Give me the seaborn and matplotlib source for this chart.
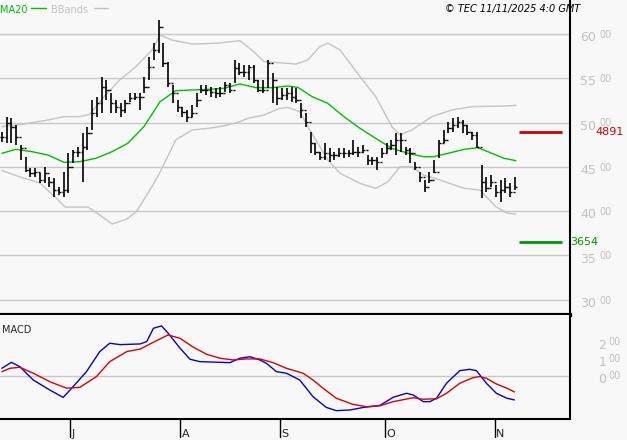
import numpy as np
import pandas as pd
import matplotlib
matplotlib.use("Agg")
import matplotlib.pyplot as plt
import seaborn as sns

# daily bars: close, high, low
closes = [4841, 4992, 4954, 4841, 4709, 4465, 4427, 4446, 4352, 4427, 4333, 4239, 4220, 4239, 4502,
          4672, 4672, 4728, 4879, 5105, 5217, 5406, 5368, 5217, 5180, 5142, 5217, 5274, 5293, 5293,
          5406, 5631, 5820, 6083, 5669, 5443, 5330, 5180, 5123, 5067, 5105, 5255, 5368, 5368, 5349,
          5330, 5330, 5424, 5368, 5613, 5575, 5575, 5631, 5481, 5368, 5368, 5669, 5481, 5274, 5312,
          5330, 5293, 5255, 5142, 5011, 4766, 4672, 4615, 4653, 4634, 4634, 4653, 4653, 4653, 4672,
          4672, 4691, 4578, 4578, 4559, 4653, 4709, 4747, 4804, 4804, 4691, 4653, 4502, 4390, 4277,
          4352, 4446, 4766, 4804, 4935, 4973, 5011, 4973, 4898, 4860, 4728, 4333, 4258, 4333, 4220,
          4239, 4277, 4220, 4277]
highs = [4898, 5067, 5048, 4973, 4747, 4615, 4484, 4484, 4427, 4502, 4390, 4371, 4277, 4446, 4653,
         4691, 4728, 4879, 4954, 5255, 5293, 5519, 5481, 5330, 5255, 5217, 5255, 5330, 5330, 5330,
         5519, 5744, 5895, 6158, 5895, 5688, 5424, 5255, 5180, 5142, 5199, 5330, 5424, 5424, 5406,
         5387, 5406, 5462, 5443, 5707, 5669, 5650, 5650, 5650, 5481, 5481, 5707, 5556, 5406, 5387,
         5387, 5406, 5387, 5217, 5105, 4898, 4766, 4672, 4766, 4709, 4672, 4709, 4709, 4691, 4804,
         4728, 4747, 4634, 4615, 4615, 4709, 4766, 4804, 4879, 4879, 4728, 4709, 4559, 4446, 4352,
         4446, 4578, 4804, 4916, 5011, 5048, 5067, 5029, 4973, 4898, 4898, 4521, 4390, 4408, 4296,
         4352, 4371, 4314, 4390]
lows = [4785, 4766, 4766, 4747, 4578, 4446, 4390, 4390, 4314, 4314, 4277, 4164, 4183, 4164, 4201,
        4540, 4615, 4333, 4691, 4916, 5067, 5105, 5255, 5105, 5105, 5067, 5105, 5236, 5255, 5142,
        5330, 5481, 5707, 5782, 5631, 5406, 5217, 5123, 5067, 5011, 5067, 5180, 5330, 5312, 5293,
        5274, 5293, 5349, 5330, 5443, 5537, 5519, 5481, 5443, 5349, 5330, 5387, 5217, 5199, 5255,
        5255, 5236, 5217, 5048, 4954, 4653, 4634, 4578, 4578, 4559, 4578, 4615, 4597, 4615, 4634,
        4615, 4653, 4521, 4521, 4465, 4597, 4653, 4691, 4634, 4672, 4634, 4540, 4465, 4333, 4220,
        4314, 4427, 4597, 4766, 4879, 4898, 4935, 4879, 4860, 4804, 4709, 4145, 4220, 4277, 4164,
        4107, 4201, 4164, 4239]

ma_day = [0, 2.9, 6.3, 9.7, 13.1, 16.4, 19.8, 23.2, 26.5, 29.9, 33.3, 36.6, 40, 43.4, 46.7, 50.1,
          53.5, 56.8, 60.2, 62.3, 65.3, 68.6, 72, 75.4, 78.7, 82.1, 85.5, 88.8, 90.9, 93.9, 97.3,
          100.2, 102.3, 105.7, 108.2]
ma20 = [4653, 4698, 4672, 4634, 4551, 4559, 4597, 4672, 4766, 4954, 5236, 5360, 5368, 5375, 5387,
        5436, 5394, 5394, 5413, 5398, 5293, 5217, 5067, 4935, 4822, 4709, 4653, 4615, 4615, 4653,
        4698, 4717, 4672, 4597, 4570]

up_day = [0, 4.6, 9.7, 13.1, 16.4, 18.5, 21.5, 24.8, 28.2, 31.6, 33.3, 35.8, 40, 45.1, 50.1, 52.6,
          55.2, 61.9, 64.4, 66.9, 68.6, 71.2, 75.4, 78.7, 82.1, 83.8, 86.3, 90.5, 94.7, 98.9, 105.7,
          108.2]
bb_up = [4954, 4984, 5029, 5067, 5067, 5093, 5293, 5481, 5631, 5820, 5989, 5932, 5887, 5895, 5925,
         5820, 5688, 5661, 5707, 5857, 5895, 5820, 5519, 5293, 4954, 4860, 4916, 5067, 5142, 5180,
         5187, 5195]

lo_day = [0, 3.8, 8, 11.2, 13.3, 18.1, 20.6, 23.2, 26.3, 28.4, 30.5, 31.8, 33.3, 36.6, 40, 43.4,
          46.7, 50.1, 51.8, 55.2, 58.5, 60.2, 62.7, 64.4, 66.1, 68.6, 71.2, 75.4, 78.7, 81.3, 83.8,
          86.3, 88.8, 92.2, 97.3, 100.6, 104, 106.5, 108.2]
bb_lo = [4460, 4386, 4318, 4160, 4047, 4047, 3957, 3855, 3911, 4002, 4182, 4295, 4442, 4804, 4916,
         4935, 4962, 5011, 5048, 5086, 5161, 5172, 5123, 4954, 4804, 4578, 4427, 4314, 4258, 4333,
         4502, 4502, 4408, 4352, 4258, 4239, 4051, 3976, 3968]

macd_day = [0, 2.0, 3.8, 6.6, 10.1, 12.9, 14.7, 17.8, 20.6, 22.7, 24.9, 29.1, 30.5, 31.9, 33.6, 35.0,
            37.5, 39.6, 41.7, 45.9, 48.0, 50.1, 52.2, 54.3, 55.7, 57.8, 59.9, 62.7, 65.5, 68.3, 70.4,
            73.3, 76.1, 79.6, 82.4, 85.2, 86.6, 88.7, 90.1, 91.5, 93.6, 96.4, 98.5, 99.9, 102.0,
            104.1, 106.3, 107.9]
macd = [47, 82, 56, -22, -81, -124, -70, 27, 145, 194, 186, 190, 204, 282, 296, 253, 165, 100, 86,
        82, 80, 106, 115, 96, 76, 27, 18, -22, -120, -183, -202, -198, -183, -171, -123, -100, -110,
        -149, -149, -129, -41, 33, 41, 33, -41, -100, -129, -139]

sig_day = [0, 1.7, 3.8, 6.6, 10.1, 13.6, 16.4, 19.9, 22.7, 26.3, 29.1, 31.9, 35.0, 37.5, 40.3, 43.1,
           45.9, 48.7, 51.5, 54.3, 57.1, 59.9, 63.4, 65.5, 67.6, 70.4, 73.9, 76.8, 79.6, 82.4, 86.6,
           88.7, 91.5, 93.6, 96.4, 99.2, 100.6, 102.0, 104.1, 106.3, 107.9]
signal = [27, 47, 53, 18, -32, -70, -65, -2, 86, 145, 160, 200, 243, 223, 171, 129, 106, 96, 102,
          102, 80, 47, 18, -22, -70, -129, -165, -179, -173, -149, -126, -135, -132, -100, -41, -8,
          -2, -12, -45, -70, -92]

month_day = [14.3, 37.5, 58.5, 80.6, 103.8]
month_labels = ["J", "A", "S", "O", "N"]
price_ticks = [3000, 3500, 4000, 4500, 5000, 5500, 6000]
macd_ticks = [0, 100, 200]
resist, support = 4891, 3654

BG = "#f8f8f8"
GRID = "#c8c8c8"
LBL = "#c0c0c0"

sns.set_style("white")
plt.rcParams["font.family"] = ["DejaVu Sans"]
fig = plt.figure(figsize=(6.27, 4.4), dpi=100, facecolor=BG)
ax = fig.add_axes([0, 1 - 315 / 440, 570 / 627, 315 / 440], facecolor=BG)
ax2 = fig.add_axes([0, 1 - 419 / 440, 570 / 627, 104 / 440], facecolor=BG)
XL = (-0.4, 119.6)

# price panel
for p in price_ticks:
    ax.axhline(p, color=GRID, lw=1, zorder=0)
sns.lineplot(x=up_day, y=bb_up, ax=ax, color="#c4c4c4", lw=1)
sns.lineplot(x=lo_day, y=bb_lo, ax=ax, color="#c4c4c4", lw=1)
sns.lineplot(x=ma_day, y=ma20, ax=ax, color="#00c000", lw=1)
days = np.arange(len(closes))
opens = [closes[0]] + closes[:-1]
ax.vlines(days, lows, highs, color="black", lw=1.2)
ax.hlines(opens, days - 0.45, days, color="black", lw=1)
ax.hlines(closes, days, days + 0.45, color="black", lw=1)
ax.hlines(resist, 108.8, 117.9, color="#cc0000", lw=2)
ax.hlines(support, 108.8, 117.9, color="#009900", lw=2)
ax.set_xlim(*XL)
ax.set_ylim(2828, 6384)
ax.set_xticks([])
ax.set_yticks([])
for s in ["left", "top"]:
    ax.spines[s].set_visible(False)
ax.spines["right"].set_linewidth(1.5)
ax.spines["right"].set_color("black")
ax.spines["bottom"].set_linewidth(3)
ax.spines["bottom"].set_color("black")

tr = ax.get_yaxis_transform()
for p in price_ticks:
    s = str(p)
    ax.text(1.018, p - 40, s[:2], transform=tr, ha="left", va="center", color=LBL, fontsize=9)
    ax.text(1.052, p - 10, s[2:], transform=tr, ha="left", va="center", color=LBL, fontsize=7)
ax.text(1.045, resist, str(resist), transform=tr, ha="left", va="center", color="#cc0000", fontsize=8)
ax.text(1.0, support, str(support), transform=tr, ha="left", va="center", color="#009900", fontsize=8)

ax.text(0.0, 0.985, "MA20", transform=ax.transAxes, color="#00c000", fontsize=7, va="top")
ax.plot([0.055, 0.08], [0.975, 0.975], transform=ax.transAxes, color="#00c000", lw=1)
ax.text(0.09, 0.985, "BBands", transform=ax.transAxes, color=LBL, fontsize=7, va="top")
ax.plot([0.165, 0.19], [0.975, 0.975], transform=ax.transAxes, color=LBL, lw=1)
fig.text(0.71, 0.99, "\u00a9 TEC 11/11/2025 4:0 GMT", color="black", fontsize=7,
         style="italic", va="top")

# MACD panel
ax2.axhline(0, color=GRID, lw=1, zorder=0)
sns.lineplot(x=macd_day, y=macd, ax=ax2, color="#0000dd", lw=1)
sns.lineplot(x=sig_day, y=signal, ax=ax2, color="#dd0000", lw=1)
ax2.set_xlim(*XL)
ax2.set_ylim(-251, 360)
ax2.set_yticks([])
ax2.set_xticks([])
xtr = ax2.get_xaxis_transform()
for d, lab in zip(month_day, month_labels):
    ax2.plot([d, d], [0, -0.17], transform=xtr, color="black", lw=1, clip_on=False)
    ax2.text(d + 0.3, -0.19, lab, transform=xtr, ha="left", va="bottom", fontsize=8)
for s in ["left", "top"]:
    ax2.spines[s].set_visible(False)
for s in ["right", "bottom"]:
    ax2.spines[s].set_linewidth(1.5)
    ax2.spines[s].set_color("black")
ax2.text(0.003, 0.9, "MACD", transform=ax2.transAxes, fontsize=7, va="top")
tr2 = ax2.get_yaxis_transform()
for m in macd_ticks:
    s = f"{m:03d}"
    ax2.text(1.05, m - 20, s[0], transform=tr2, ha="left", va="center", color=LBL, fontsize=9)
    ax2.text(1.068, m, s[1:], transform=tr2, ha="left", va="center", color=LBL, fontsize=7)

fig.savefig("out.png", dpi=100, facecolor=BG)
